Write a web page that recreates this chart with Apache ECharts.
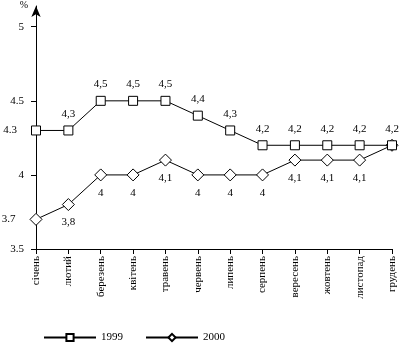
<!DOCTYPE html>
<html>
<head>
<meta charset="utf-8">
<script src="https://cdn.jsdelivr.net/npm/echarts@6/dist/echarts.min.js"></script>
<style>
  html, body { margin: 0; padding: 0; background: #fff; }
  #chart { width: 408px; height: 344px; }
</style>
</head>
<body>
<div id="chart"></div>
<script>
// Monthly values, 1999 vs 2000 (%)
const months = ['січень', 'лютий', 'березень', 'квітень', 'травень', 'червень',
                'липень', 'серпень', 'вересень', 'жовтень', 'листопад', 'грудень'];
const values1999 = [4.3, 4.3, 4.5, 4.5, 4.5, 4.4, 4.3, 4.2, 4.2, 4.2, 4.2, 4.2];
const values2000 = [3.7, 3.8, 4.0, 4.0, 4.1, 4.0, 4.0, 4.0, 4.1, 4.1, 4.1, 4.2];
const yTicks = [3.5, 4, 4.5, 5];

const FONT = '"Liberation Serif", "Times New Roman", serif';
const comma = v => String(v).replace('.', ',');

// First point is labelled beside the axis, the rest above/below the marker.
// The shared December point of 2000 is left unlabelled (1999 labels it).
function seriesData(values, otherPos, hideLast) {
  return values.map((v, i) => ({
    value: v,
    label: {
      show: !(hideLast && i === values.length - 1),
      position: i === 0 ? 'left' : otherPos,
      distance: i === 0 ? 14 : 6,
      formatter: i === 0 ? String(v) : comma(v)
    }
  }));
}

const chart = echarts.init(document.getElementById('chart'), null, { renderer: 'canvas' });
chart.setOption({
  animation: false,
  backgroundColor: '#fff',
  textStyle: { fontFamily: FONT },
  grid: { left: 36, right: 16, top: 3, bottom: 95, containLabel: false },
  xAxis: {
    type: 'category',
    data: months,
    boundaryGap: false,
    axisLine: { lineStyle: { color: '#000', width: 1 } },
    axisTick: { show: true, length: 5, inside: false, alignWithLabel: true, lineStyle: { color: '#000' } },
    axisLabel: { rotate: 90, color: '#000', fontFamily: FONT, fontSize: 11, margin: 7, interval: 0 },
    splitLine: { show: false }
  },
  yAxis: {
    type: 'value',
    min: 3.5,
    max: 5.14,
    name: '%',
    nameLocation: 'end',
    nameGap: -4,
    nameTextStyle: { color: '#000', fontFamily: FONT, fontSize: 10, align: 'right', padding: [0, 8, 0, 0] },
    axisLine: { show: true, symbol: ['none', 'arrow'], symbolSize: [7, 11], lineStyle: { color: '#000', width: 1 } },
    axisTick: { show: true, length: 5, customValues: yTicks, lineStyle: { color: '#000' } },
    axisLabel: { color: '#000', fontFamily: FONT, fontSize: 11, margin: 12, customValues: yTicks },
    splitLine: { show: false }
  },
  legend: {
    left: 38,
    top: 327,
    itemWidth: 52,
    itemHeight: 9,
    itemGap: 22,
    textStyle: { color: '#000', fontFamily: FONT, fontSize: 11 },
    data: ['1999', '2000']
  },
  series: [
    {
      name: '1999',
      type: 'line',
      data: seriesData(values1999, 'top', false),
      symbol: 'rect',
      symbolSize: 9,
      showAllSymbol: true,
      lineStyle: { color: '#000', width: 1 },
      itemStyle: { color: '#fff', borderColor: '#000', borderWidth: 1 },
      label: { show: true, color: '#000', fontFamily: FONT, fontSize: 11 },
      z: 3
    },
    {
      name: '2000',
      type: 'line',
      data: seriesData(values2000, 'bottom', true),
      symbol: 'diamond',
      symbolSize: 12,
      showAllSymbol: true,
      lineStyle: { color: '#000', width: 1 },
      itemStyle: { color: '#fff', borderColor: '#000', borderWidth: 1 },
      label: { show: true, color: '#000', fontFamily: FONT, fontSize: 11 },
      z: 2
    }
  ]
});
</script>
</body>
</html>
